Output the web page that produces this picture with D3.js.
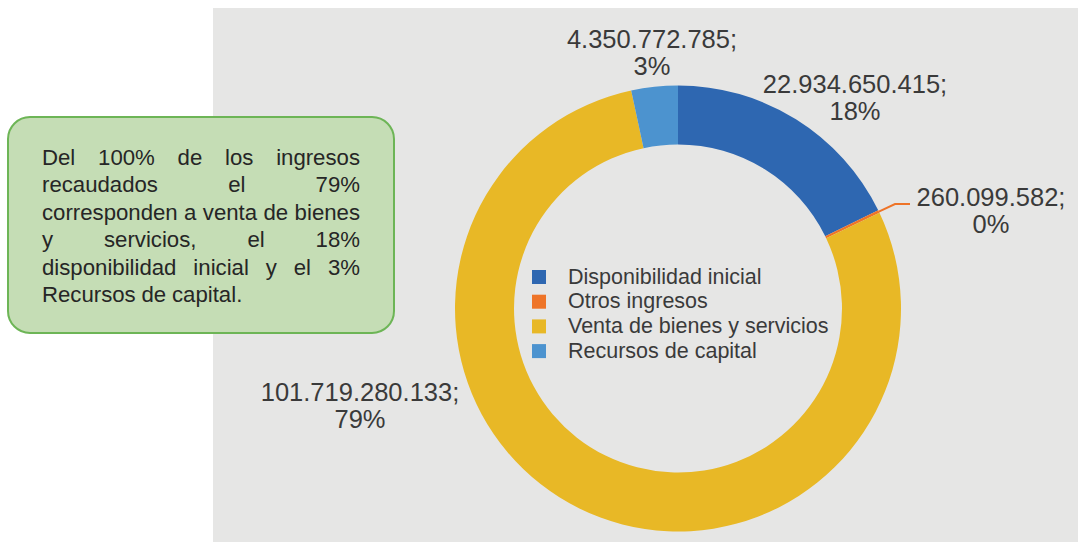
<!DOCTYPE html>
<html>
<head>
<meta charset="utf-8">
<script src="https://cdn.jsdelivr.net/npm/d3@7"></script>
<style>
  body { margin: 0; background: #ffffff; }
  svg { display: block; }
  text { font-family: "Liberation Sans", Arial, sans-serif; }
</style>
</head>
<body>
<svg id="grafico" width="1079" height="542"></svg>
<script>
// DONNÉES DU GRAPHIQUE
const categorias = ["Disponibilidad inicial", "Otros ingresos", "Venta de bienes y servicios", "Recursos de capital"]
const valores = [22934650415, 260099582, 101719280133, 4350772785]
const colores = ["#2E67B1", "#EE7428", "#E8B826", "#4C93CF"]

// Texte du cadre vert (une ligne par entrée, justifiée sauf la dernière)
const lignesCadre = [
    "Del 100% de los ingresos",
    "recaudados el 79%",
    "corresponden a venta de bienes",
    "y servicios, el 18%",
    "disponibilidad inicial y el 3%",
    "Recursos de capital."
]

// Placement des étiquettes (ligne de base de la première ligne), dans l'ordre des catégories
const placementEtiquettes = [
    { x: 855, y: 93 },
    { x: 991, y: 206 },
    { x: 360, y: 401 },
    { x: 652, y: 48 }
]

const svg = d3.select("#grafico")

// Fond gris de la zone du graphique
svg.append("rect")
    .attr("x", 213)
    .attr("y", 8)
    .attr("width", 865)
    .attr("height", 540)
    .attr("fill", "#E6E6E5")

// ANNEAU
const cx = 678, cy = 308.5
const rayonExt = 223, rayonInt = 164

const total = d3.sum(valores)
const pie = d3.pie().sort(null).value(d => d)(valores)
const arc = d3.arc().innerRadius(rayonInt).outerRadius(rayonExt)

const anneau = svg.append("g").attr("transform", `translate(${cx},${cy})`)
anneau.selectAll("path")
    .data(pie)
    .join("path")
    .attr("d", arc)
    .attr("fill", (d, i) => colores[i])

// Format des nombres à la manière espagnole : 22.934.650.415
const formatNombre = v => d3.format(",")(v).replace(/,/g, ".")
const formatPct = v => Math.round(v / total * 100) + "%"

// Trait de rappel pour la petite part « Otros ingresos »
const partOtros = pie[1]
const angleOtros = (partOtros.startAngle + partOtros.endAngle) / 2
const departX = cx + rayonExt * Math.sin(angleOtros)
const departY = cy - rayonExt * Math.cos(angleOtros)
const etiqOtros = placementEtiquettes[1]
svg.append("polyline")
    .attr("points", [
        [departX, departY],
        [etiqOtros.x - 96, etiqOtros.y - 2],
        [etiqOtros.x - 81, etiqOtros.y - 2]
    ].map(p => p.join(",")).join(" "))
    .attr("fill", "none")
    .attr("stroke", colores[1])
    .attr("stroke-width", 2)

// Étiquettes de données (deux textes séparés : valeur puis pourcentage)
pie.forEach((d, i) => {
    const p = placementEtiquettes[i]
    svg.append("text")
        .attr("x", p.x).attr("y", p.y)
        .attr("text-anchor", "middle")
        .attr("font-size", 25.5)
        .attr("fill", "#3a3a3a")
        .text(formatNombre(d.data) + ";")
    svg.append("text")
        .attr("x", p.x).attr("y", p.y + 27)
        .attr("text-anchor", "middle")
        .attr("font-size", 25.5)
        .attr("fill", "#3a3a3a")
        .text(formatPct(d.data))
})

// LÉGENDE au centre de l'anneau
const legende = svg.append("g").attr("transform", "translate(532,270)")
categorias.forEach((c, i) => {
    const ligne = legende.append("g").attr("transform", `translate(0,${i * 24.7})`)
    ligne.append("rect")
        .attr("width", 14)
        .attr("height", 14)
        .attr("fill", colores[i])
    ligne.append("text")
        .attr("x", 36)
        .attr("y", 13.5)
        .attr("font-size", 21.5)
        .attr("fill", "#3a3a3a")
        .text(c)
})

// CADRE VERT avec le commentaire
svg.append("rect")
    .attr("x", 8)
    .attr("y", 117)
    .attr("width", 386)
    .attr("height", 216)
    .attr("rx", 22)
    .attr("fill", "#C5DDB5")
    .attr("stroke", "#6DB556")
    .attr("stroke-width", 2)

const gaucheTexte = 42, droiteTexte = 360
lignesCadre.forEach((ligne, i) => {
    const y = 165 + i * 27.4
    const mots = ligne.split(" ")
    const derniere = i === lignesCadre.length - 1
    const groupe = svg.append("g")
    const noeuds = mots.map(m => groupe.append("text")
        .attr("y", y)
        .attr("font-size", 22.2)
        .attr("fill", "#262626")
        .text(m))
    const largeurs = noeuds.map(n => n.node().getComputedTextLength())
    const espace = derniere || mots.length < 2
        ? 5.8
        : Math.max(3, (droiteTexte - gaucheTexte - d3.sum(largeurs)) / (mots.length - 1))
    let x = gaucheTexte
    noeuds.forEach((n, j) => {
        n.attr("x", x)
        x += largeurs[j] + espace
    })
})
</script>
</body>
</html>
